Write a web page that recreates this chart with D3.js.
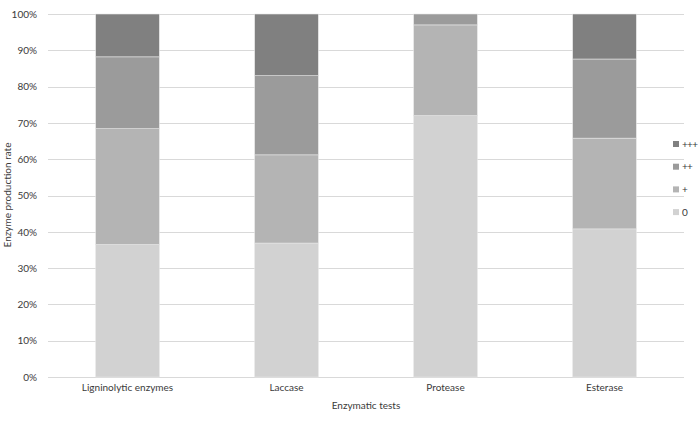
<!DOCTYPE html>
<html>
<head>
<meta charset="utf-8">
<script src="https://cdn.jsdelivr.net/npm/d3@7"></script>
<style>
  body { margin: 0; background: #fff; }
  text { font-family: Lato, "Open Sans", sans-serif; fill: #3a3a3a; }
</style>
</head>
<body>
<script>
//chart data
var categories = ["Ligninolytic enzymes", "Laccase", "Protease", "Esterase"];
var levels = ["0", "+", "++", "+++"];
var level0 = [36.5, 36.9, 72.0, 40.8];
var levelPlus = [31.9, 24.3, 25.0, 25.0];
var level2Plus = [19.8, 21.8, 3.0, 21.8];
var level3Plus = [11.8, 17.0, 0, 12.4];
var yTicks = [0, 10, 20, 30, 40, 50, 60, 70, 80, 90, 100];

var colors = ["#d2d2d2", "#b4b4b4", "#9b9b9b", "#808080"];

var width = 699,
    height = 421,
    fontSize = "10px";

var svg = d3.select("body")
    .append("svg")
    .attr("width", width)
    .attr("height", height);

var x = d3.scaleBand()
    .domain(categories)
    .range([48, 684])
    .paddingInner(0.6)
    .paddingOuter(0.3);

var y = d3.scaleLinear()
    .domain([0, 100])
    .range([377, 14]);

//build rows for the stack
var rows = categories.map(function(c, i){
    return { cat: c, "0": level0[i], "+": levelPlus[i], "++": level2Plus[i], "+++": level3Plus[i] };
});
var series = d3.stack().keys(levels)(rows);

//gridlines
svg.append("g")
    .selectAll("line")
    .data(yTicks)
    .enter()
    .append("line")
    .attr("x1", 48)
    .attr("x2", 684)
    .attr("y1", function(d){ return Math.round(y(d)) + 0.5; })
    .attr("y2", function(d){ return Math.round(y(d)) + 0.5; })
    .attr("stroke", "#d9d9d9")
    .attr("stroke-width", 1);

//y axis tick labels
var yAxis = d3.axisLeft(y)
    .tickValues(yTicks)
    .tickSize(0)
    .tickPadding(0)
    .tickFormat(function(d){ return d + "%"; });

svg.append("g")
    .attr("transform", "translate(37,0)")
    .call(yAxis)
    .call(function(g){ g.select(".domain").remove(); })
    .selectAll("text")
    .style("font-size", fontSize)
    .style("font-family", "Lato, sans-serif")
    .attr("fill", "#3a3a3a");

//stacked bars
svg.append("g")
    .selectAll("g")
    .data(series)
    .enter()
    .append("g")
    .attr("fill", function(d, i){ return colors[i]; })
    .selectAll("rect")
    .data(function(d){ return d; })
    .enter()
    .append("rect")
    .attr("x", function(d){ return x(d.data.cat); })
    .attr("y", function(d){ return y(d[1]); })
    .attr("width", x.bandwidth())
    .attr("height", function(d){ return y(d[0]) - y(d[1]); })
    .attr("stroke", "#e6e6e6")
    .attr("stroke-width", 0.6);

//x axis category labels
var xAxis = d3.axisBottom(x).tickSize(0).tickPadding(0);
svg.append("g")
    .attr("transform", "translate(0,384)")
    .call(xAxis)
    .call(function(g){ g.select(".domain").remove(); })
    .selectAll("text")
    .style("font-size", fontSize)
    .style("font-family", "Lato, sans-serif")
    .attr("fill", "#3a3a3a");

//axis titles
svg.append("text")
    .attr("x", 366)
    .attr("y", 409)
    .attr("text-anchor", "middle")
    .style("font-size", fontSize)
    .text("Enzymatic tests");

svg.append("text")
    .attr("transform", "translate(11,195) rotate(-90)")
    .attr("text-anchor", "middle")
    .style("font-size", fontSize)
    .text("Enzyme production rate");

//legend, top item is +++
var legendItems = levels.slice().reverse();
var legend = svg.append("g")
    .selectAll("g")
    .data(legendItems)
    .enter()
    .append("g")
    .attr("transform", function(d, i){ return "translate(673," + (141 + i * 22.7) + ")"; });

legend.append("rect")
    .attr("width", 6)
    .attr("height", 6)
    .attr("fill", function(d){ return colors[levels.indexOf(d)]; });

legend.append("text")
    .attr("x", 9)
    .attr("y", 6.5)
    .style("font-size", fontSize)
    .style("letter-spacing", "-0.7px")
    .text(function(d){ return d; });
</script>
</body>
</html>
